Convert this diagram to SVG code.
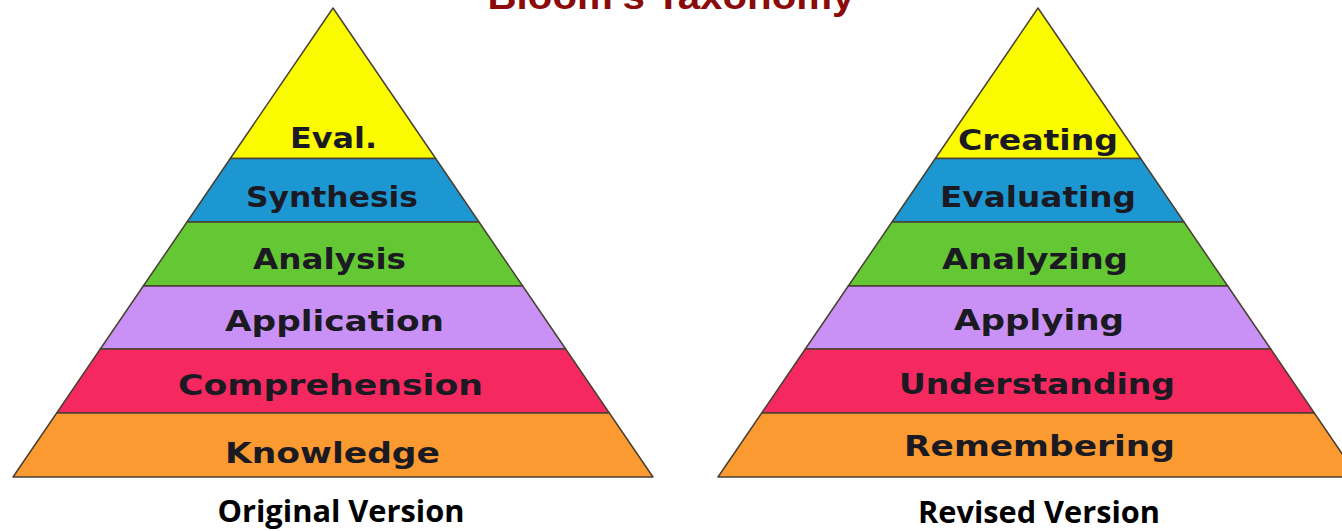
<svg xmlns="http://www.w3.org/2000/svg" width="1342" height="531" viewBox="0 0 1342 531">
<style>
.band{stroke:#4a4032;stroke-width:1.5;stroke-linejoin:round}
.y{fill:#fbfb00}.b{fill:#1c97d2}.g{fill:#63c834}.p{fill:#c991f6}.r{fill:#f5295f}.o{fill:#fa9a31}
.lbl{font-family:"DejaVu Sans",sans-serif;font-weight:bold;font-size:29px;fill:#1b1a22;text-anchor:middle}
.cap{font-family:"Open Sans",sans-serif;font-weight:bold;font-size:30px;fill:#000;text-anchor:middle}
.title{font-family:"Liberation Sans",sans-serif;font-weight:bold;font-size:36px;fill:#8b0a0a;text-anchor:middle}
</style>
<rect width="1342" height="531" fill="#fff"/>
<g id="title"><text class="title" x="671" y="9" textLength="367" lengthAdjust="spacingAndGlyphs">Bloom’s Taxonomy</text></g>

<g id="original">
<g id="eval"><polygon class="band y" points="333,8 435.7,158.5 230.3,158.5"/><text class="lbl" x="333.5" y="148" textLength="87" lengthAdjust="spacingAndGlyphs">Eval.</text></g>
<g id="synthesis"><polygon class="band b" points="230.3,158.5 435.7,158.5 479,222 187,222"/><text class="lbl" x="332" y="207" textLength="172" lengthAdjust="spacingAndGlyphs">Synthesis</text></g>
<g id="analysis"><polygon class="band g" points="187,222 479,222 522.7,286 143.3,286"/><text class="lbl" x="329.5" y="269" textLength="153" lengthAdjust="spacingAndGlyphs">Analysis</text></g>
<g id="application"><polygon class="band p" points="143.3,286 522.7,286 565.7,349 100.3,349"/><text class="lbl" x="334.5" y="331" textLength="219" lengthAdjust="spacingAndGlyphs">Application</text></g>
<g id="comprehension"><polygon class="band r" points="100.3,349 565.7,349 609.3,413 56.7,413"/><text class="lbl" x="330.5" y="395" textLength="305" lengthAdjust="spacingAndGlyphs">Comprehension</text></g>
<g id="knowledge"><polygon class="band o" points="56.7,413 609.3,413 653,477 13,477"/><text class="lbl" x="332.5" y="463" textLength="215" lengthAdjust="spacingAndGlyphs">Knowledge</text></g>
<text class="cap" x="341" y="522" textLength="247" lengthAdjust="spacingAndGlyphs">Original Version</text>
</g>

<g id="revised">
<g id="creating"><polygon class="band y" points="1038,8 1140.7,158.5 935.3,158.5"/><text class="lbl" x="1038" y="150" textLength="160" lengthAdjust="spacingAndGlyphs">Creating</text></g>
<g id="evaluating"><polygon class="band b" points="935.3,158.5 1140.7,158.5 1184,222 892,222"/><text class="lbl" x="1038" y="207" textLength="196" lengthAdjust="spacingAndGlyphs">Evaluating</text></g>
<g id="analyzing"><polygon class="band g" points="892,222 1184,222 1227.7,286 848.3,286"/><text class="lbl" x="1035" y="269" textLength="186" lengthAdjust="spacingAndGlyphs">Analyzing</text></g>
<g id="applying"><polygon class="band p" points="848.3,286 1227.7,286 1270.7,349 805.3,349"/><text class="lbl" x="1039" y="330" textLength="170" lengthAdjust="spacingAndGlyphs">Applying</text></g>
<g id="understanding"><polygon class="band r" points="805.3,349 1270.7,349 1314.3,413 761.7,413"/><text class="lbl" x="1037" y="394" textLength="276" lengthAdjust="spacingAndGlyphs">Understanding</text></g>
<g id="remembering"><polygon class="band o" points="761.7,413 1314.3,413 1358,477 718,477"/><text class="lbl" x="1039.5" y="456" textLength="271" lengthAdjust="spacingAndGlyphs">Remembering</text></g>
<text class="cap" x="1039" y="523" textLength="242" lengthAdjust="spacingAndGlyphs">Revised Version</text>
</g>

<g id="connectors"/>
</svg>
